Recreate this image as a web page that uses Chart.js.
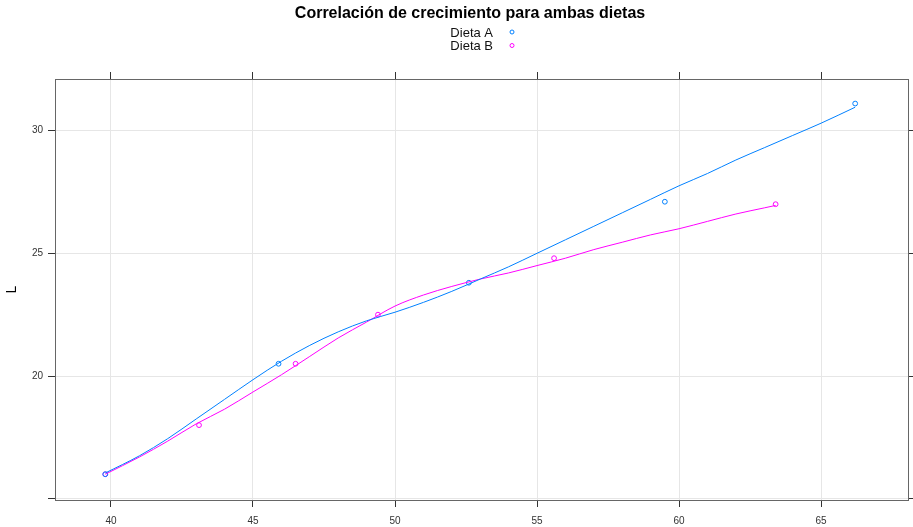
<!DOCTYPE html>
<html>
<head>
<meta charset="utf-8">
<script src="https://cdn.jsdelivr.net/npm/chart.js@4.4.1/dist/chart.umd.min.js"></script>
<style>
  body { margin: 0; background: #fff; }
</style>
</head>
<body>
<canvas id="corrChart" width="913" height="527"></canvas>

<script type="text/javascript">
    const titleText = 'Correlación de crecimiento para ambas dietas';
    const yTitle = 'L';
    const legendLabels = ['Dieta A', 'Dieta B'];
    const xTicks = [40, 45, 50, 55, 60, 65];
    const yTicks = [15, 20, 25, 30];
    const yTickLabels = ['', '20', '25', '30'];

    // observed points
    const dietaA_x = [39.8, 45.9, 52.6, 59.5, 66.2];
    const dietaA_y = [16.0, 20.5, 23.8, 27.1, 31.1];
    const dietaB_x = [39.8, 43.1, 46.5, 49.4, 55.6, 63.4];
    const dietaB_y = [16.0, 18.0, 20.5, 22.5, 24.8, 27.0];

    // smooth (loess) curves
    const smoothA_x = [39.8, 41, 42, 43, 44, 45, 46, 47, 48, 49, 50, 51, 52, 53, 54, 55, 56, 57, 58, 59, 60, 61, 62, 63, 64, 65, 66.2];
    const smoothA_y = [16.05, 16.75, 17.45, 18.25, 19.05, 19.85, 20.6, 21.25, 21.8, 22.25, 22.6, 23.0, 23.45, 23.95, 24.45, 25.0, 25.55, 26.1, 26.65, 27.2, 27.75, 28.25, 28.8, 29.3, 29.8, 30.3, 30.95];
    const smoothB_x = [39.8, 41, 42, 43, 44, 45, 46, 47, 48, 49, 50, 51, 52, 53, 54, 55, 56, 57, 58, 59, 60, 61, 62, 63, 63.4];
    const smoothB_y = [16.0, 16.7, 17.35, 18.05, 18.65, 19.35, 20.05, 20.8, 21.55, 22.2, 22.85, 23.3, 23.65, 23.95, 24.2, 24.5, 24.8, 25.15, 25.45, 25.75, 26.0, 26.3, 26.6, 26.85, 26.95];

    const colA = '#0080ff';
    const colB = '#ff00ff';
    const font = '"Liberation Sans", Arial, sans-serif';

    function pts(xs, ys) {
      return xs.map((x, i) => ({ x: x, y: ys[i] }));
    }

    // title and the stacked "label  o" key, lattice style
    const headerPlugin = {
      id: 'header',
      afterDraw(chart) {
        const c = chart.ctx;
        c.save();
        c.fillStyle = '#000';
        c.textBaseline = 'middle';
        c.textAlign = 'center';
        c.font = 'bold 16px ' + font;
        c.fillText(titleText, 470, 14);
        c.font = '13px ' + font;
        c.textAlign = 'right';
        const cols = [colA, colB];
        legendLabels.forEach((lab, i) => {
          const y = 33 + i * 13.5;
          c.fillStyle = '#111';
          c.fillText(lab, 493, y);
          c.strokeStyle = cols[i];
          c.lineWidth = 1;
          c.beginPath();
          c.arc(512, y - 1, 2, 0, Math.PI * 2);
          c.stroke();
        });
        c.restore();
      }
    };

    const ctx = document.getElementById('corrChart').getContext('2d');

    const chart = new Chart(ctx, {
      type: 'scatter',
      data: {
        datasets: [
          { label: 'smooth A', data: pts(smoothA_x, smoothA_y), showLine: true, borderColor: colA, borderWidth: 1, pointRadius: 0, cubicInterpolationMode: 'monotone' },
          { label: 'smooth B', data: pts(smoothB_x, smoothB_y), showLine: true, borderColor: colB, borderWidth: 1, pointRadius: 0, cubicInterpolationMode: 'monotone' },
          { label: legendLabels[0], data: pts(dietaA_x, dietaA_y), borderColor: colA, backgroundColor: 'rgba(0,0,0,0)', borderWidth: 1, pointRadius: 2.4 },
          { label: legendLabels[1], data: pts(dietaB_x, dietaB_y), borderColor: colB, backgroundColor: 'rgba(0,0,0,0)', borderWidth: 1, pointRadius: 2.4 }
        ]
      },
      options: {
        responsive: false,
        animation: false,
        layout: { padding: { top: 71, left: 0, right: 0, bottom: 0 } },
        plugins: { legend: { display: false }, tooltip: { enabled: false } },
        scales: {
          x: {
            type: 'linear', position: 'bottom', min: 38.03, max: 68.06,
            afterBuildTicks: s => { s.ticks = xTicks.map(v => ({ value: v })); },
            afterFit: s => { s.height = 27; },
            grid: { color: '#e6e6e6', tickColor: '#333', tickLength: 7 },
            border: { color: '#666' },
            ticks: { color: '#333', padding: 8, maxRotation: 0, font: { family: '"Liberation Sans Narrow", "Liberation Sans", Arial', size: 10 } }
          },
          x2: {
            type: 'linear', position: 'top', min: 38.03, max: 68.06,
            afterBuildTicks: s => { s.ticks = xTicks.map(v => ({ value: v })); },
            afterFit: s => { s.height = 8; },
            grid: { drawOnChartArea: false, tickColor: '#333', tickLength: 7 },
            border: { color: '#666' },
            ticks: { display: false }
          },
          y: {
            type: 'linear', position: 'left', min: 14.95, max: 32.1,
            afterBuildTicks: s => { s.ticks = yTicks.map(v => ({ value: v })); },
            afterFit: s => { s.width = 55; },
            grid: { color: '#e6e6e6', tickColor: '#333', tickLength: 7 },
            border: { color: '#666' },
            title: { display: true, text: yTitle, color: '#000', font: { family: font, size: 14 }, padding: { top: 4, bottom: 0 } },
            ticks: {
              color: '#333', padding: 5, font: { family: font, size: 10 },
              callback: (v) => yTickLabels[yTicks.indexOf(v)]
            }
          },
          y2: {
            type: 'linear', position: 'right', min: 14.95, max: 32.1,
            afterBuildTicks: s => { s.ticks = yTicks.map(v => ({ value: v })); },
            afterFit: s => { s.width = 5; },
            grid: { drawOnChartArea: false, tickColor: '#333', tickLength: 5 },
            border: { color: '#666' },
            ticks: { display: false }
          }
        }
      },
      plugins: [headerPlugin]
    });
</script>
</body>
</html>
